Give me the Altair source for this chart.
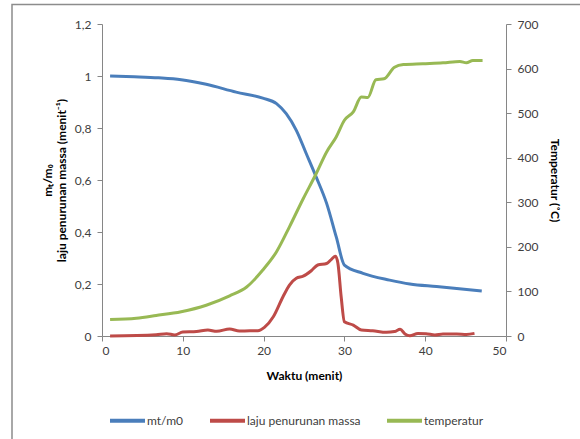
import altair as alt
import pandas as pd

# --- data ---
mass_x = [1, 4, 7, 9.8, 12.9, 16.6, 19.9, 21.6, 22.8, 24.05, 25.3, 26.5, 27.8, 29.0, 30.0, 32.3, 35.6, 38.1, 41.4, 47]
mass_y = [1.0, 0.997, 0.993, 0.986, 0.968, 0.938, 0.915, 0.894, 0.855, 0.791, 0.70, 0.612, 0.51, 0.38, 0.273, 0.241, 0.215, 0.20, 0.19, 0.173]

rate_x = [1, 6.7, 8.0, 9.0, 10.0, 11.7, 13.1, 14.2, 15.8, 17.0, 18.3, 19.3, 20.1, 21.2, 22.4, 23.2, 24.05,
          24.9, 25.9, 26.7, 27.8, 28.4, 28.9, 29.2, 29.6, 30.0, 31.1, 32.1, 33.5, 35.2, 36.2, 36.9, 37.5,
          38.1, 39.1, 40.1, 41.2, 42.2, 43.9, 45.1, 46.1]
rate_y = [0.0, 0.005, 0.009, 0.004, 0.015, 0.017, 0.023, 0.018, 0.027, 0.019, 0.02, 0.02, 0.033, 0.074, 0.151,
          0.196, 0.222, 0.23, 0.251, 0.273, 0.279, 0.295, 0.307, 0.279, 0.151, 0.055, 0.042, 0.023, 0.02,
          0.014, 0.017, 0.026, 0.008, 0.001, 0.01, 0.009, 0.004, 0.008, 0.008, 0.006, 0.01]

temp_x = [1, 4.25, 6.7, 9.8, 12.9, 15.8, 17.9, 19.9, 21.6, 23.2, 24.9, 26.5, 27.8, 29.0, 30.0, 31.1, 32.1,
          32.9, 33.9, 34.9, 36.2, 37.3, 39.7, 42.2, 44.3, 45.1, 45.9, 47.1]
temp_y = [37, 40, 46, 54.5, 69, 90, 110, 148, 189, 245, 308, 364, 413, 447, 484, 503, 536, 535, 575, 577,
          603, 609, 611, 613, 616, 613, 618, 618]

series_names = ["mt/m0", "laju penurunan massa", "temperatur"]
series_colors = ["#4A7EBB", "#BE4B48", "#98B954"]

x_ticks = [0, 10, 20, 30, 40, 50]
left_ticks = [0, 0.2, 0.4, 0.6, 0.8, 1.0, 1.2]
right_ticks = [0, 100, 200, 300, 400, 500, 600, 700]

df_left = pd.concat([
    pd.DataFrame({"t": mass_x, "v": mass_y, "s": series_names[0], "o": range(len(mass_x))}),
    pd.DataFrame({"t": rate_x, "v": rate_y, "s": series_names[1], "o": range(len(rate_x))}),
])
df_temp = pd.DataFrame({"t": temp_x, "v": temp_y, "s": series_names[2], "o": range(len(temp_x))})

FONT = "Lato"
AXIS_COLOR = "#868686"
LABEL_COLOR = "#404040"

color = alt.Color(
    "s:N",
    scale=alt.Scale(domain=series_names, range=series_colors),
    sort=series_names,
    legend=alt.Legend(
        title=None, orient="none", direction="horizontal",
        legendX=6, legendY=377,
        symbolType="stroke", symbolSize=1225, symbolStrokeWidth=4,
        labelFontSize=12, labelFont=FONT, labelColor=LABEL_COLOR,
        labelOffset=0, columnPadding=18,
    ),
)

x_enc = alt.X(
    "t:Q",
    scale=alt.Scale(domain=[0, 50], nice=False),
    axis=alt.Axis(title="Waktu (menit)", values=x_ticks, grid=False, tickSize=5,
                  labelPadding=4, titlePadding=14),
)

left = alt.Chart(df_left).mark_line(strokeWidth=3, interpolate="monotone").encode(
    x=x_enc,
    y=alt.Y("v:Q", scale=alt.Scale(domain=[0, 1.2], nice=False),
            axis=alt.Axis(title=["mₜ/m₀", "laju penurunan massa (menit⁻¹)"], values=left_ticks,
                          grid=False, tickSize=5, labelPadding=6, titlePadding=6,
                          labelExpr="replace(format(datum.value, '~g'), '.', ',')")),
    color=color,
    order="o:Q",
)

right = alt.Chart(df_temp).mark_line(strokeWidth=3, interpolate="monotone").encode(
    x=x_enc,
    y=alt.Y("v:Q", scale=alt.Scale(domain=[0, 700], nice=False),
            axis=alt.Axis(title="Temperatur (˚C)", orient="right", values=right_ticks,
                          grid=False, tickSize=5, labelPadding=6, titlePadding=10)),
    color=color,
    order="o:Q",
)

frame = alt.Chart(pd.DataFrame({"a": [0]})).mark_rect(
    fill=None, stroke="#8C8C8C", strokeWidth=1.5
).encode(x=alt.value(-90), x2=alt.value(600), y=alt.value(-19.5), y2=alt.value(500))

chart = alt.layer(frame, left, right).resolve_scale(y="independent").properties(
    width=404, height=312,
    autosize=alt.AutoSizeParams(type="none"),
    padding={"left": 102, "top": 24, "right": 74, "bottom": 103},
).configure_view(stroke=None).configure_axis(
    domainColor=AXIS_COLOR, tickColor=AXIS_COLOR, labelColor=LABEL_COLOR,
    labelFont=FONT, titleFont=FONT, labelFontSize=12, titleFontSize=12,
    titleFontWeight="bold", titleColor="#000000",
)

chart.save("out.html", embed_options={"renderer": "svg", "actions": False})
